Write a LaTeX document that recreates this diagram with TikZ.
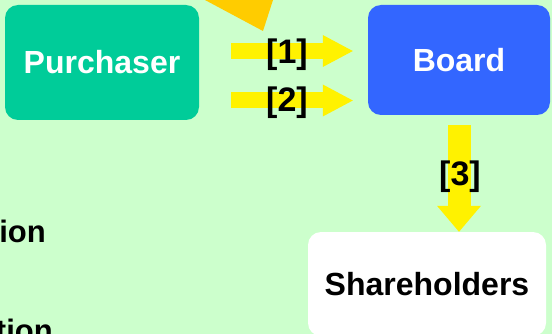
\documentclass[tikz,border=0pt]{standalone}
\usepackage{fontspec}
\setmainfont{Liberation Sans}
\usetikzlibrary{arrows.meta}
\definecolor{bgcol}{HTML}{CCFFCC}
\definecolor{buyer}{HTML}{00CC99}
\definecolor{boardcol}{HTML}{3366FF}
\definecolor{amber}{HTML}{FFCC00}
\tikzstyle{party} = [rounded corners=13pt, align=center, font=\bfseries\fontsize{32}{38}\selectfont]
\tikzstyle{flow} = [draw=yellow, line width=16pt, -{Triangle[length=30pt, width=32pt, line width=0pt]}]
\tikzstyle{lbl} = [font=\bfseries\fontsize{34}{40}\selectfont]

\begin{document}
\begin{tikzpicture}[x=1pt, y=-1pt]

  \fill[bgcol] (0,0) rectangle (552,334);
  \useasboundingbox (0,0) rectangle (552,334);

  % tip of the arrow coming from above
  \fill[amber] (205,0) -- (263,31) -- (273,0) -- cycle;

  \node[party, fill=buyer, text=white, minimum width=194pt, minimum height=115pt] (purchaser) at (102,62.5) {Purchaser};
  \node[party, fill=boardcol, text=white, minimum width=182pt, minimum height=110pt] (board) at (459,60) {Board};
  \node[party, fill=white, minimum width=238pt, minimum height=104pt] (holders) at (427,284) {Shareholders};

  \coordinate (lane1) at (0,51);
  \coordinate (lane2) at (0,100.5);

  \draw[flow, shorten <=32pt, shorten >=15pt] (purchaser.east |- lane1) -- (board.west |- lane1);
  \draw[flow, shorten <=32pt, shorten >=15pt] (purchaser.east |- lane2) -- (board.west |- lane2);
  \draw[flow, line width=23pt, -{Triangle[length=26pt, width=44pt, line width=0pt]}, shorten <=10pt] (board.south) -- (board.south |- holders.north);

  \node[lbl] (n1) at (287,55) {[1]};
  \node[lbl] (n2) at (287,103) {[2]};
  \node[lbl] (n3) at (460,177) {[3]};

  % words cut off at the left edge
  \node[lbl, font=\bfseries\fontsize{31}{37}\selectfont, anchor=base east, inner sep=0pt] (w1) at (46,242) {ion};
  \node[lbl, font=\bfseries\fontsize{31}{37}\selectfont, anchor=base east, inner sep=0pt] (w2) at (53,341) {tion};

\end{tikzpicture}
\end{document}
